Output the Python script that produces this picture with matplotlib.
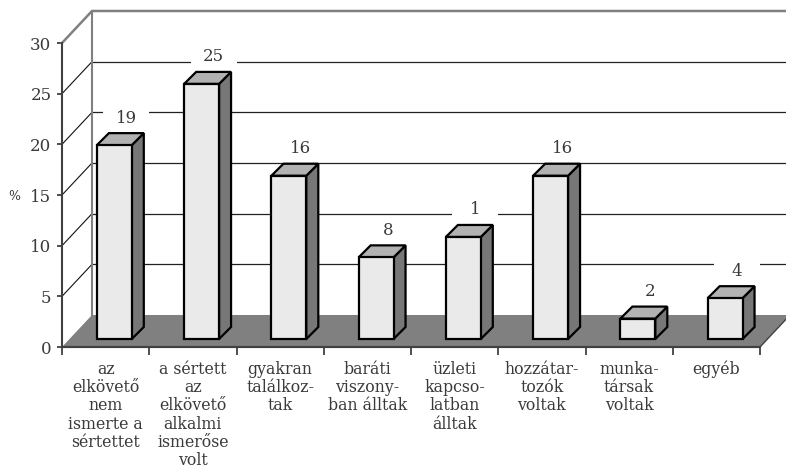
"""Relationship between offender and victim, share of cases (%), as 3D-style columns."""

import matplotlib
matplotlib.use('Agg')
import matplotlib.pyplot as plt
from matplotlib.patches import Polygon, Rectangle

CATEGORIES = [
    'az\nelkövető\nnem\nismerte a\nsértettet',
    'a sértett\naz\nelkövető\nalkalmi\nismerőse\nvolt',
    'gyakran\ntalálkoz-\ntak',
    'baráti\nviszony-\nban álltak',
    'üzleti\nkapcso-\nlatban\nálltak',
    'hozzátar-\ntozók\nvoltak',
    'munka-\ntársak\nvoltak',
    'egyéb',
]
VALUES = [19, 25, 16, 8, 10, 16, 2, 4]
VALUE_LABELS = ['19', '25', '16', '8', '1', '16', '2', '4']
Y_TICKS = [0, 5, 10, 15, 20, 25, 30]

FONT = 'DejaVu Serif'
TEXT = '#3a3a3a'

# Wall/floor offset and column depth, in data units.
WALL_DX = 30 / 87.25
WALL_DY = 32 / 10.13
BAR_DX = 12 / 87.25
BAR_DY = 12 / 10.13
BAR_LEFT = 0.40
BAR_WIDTH = 0.40
BAR_BASE = 8 / 10.13
BAR_SCALE = 10.2 / 10.13
LABEL_SHIFT = 6 / 87.25

fig = plt.figure(figsize=(7.86, 4.69), dpi=100)
ax = fig.add_axes([62 / 786, 122 / 469, 698 / 786, 304 / 469])
ax.set_xlim(0, 8)
ax.set_ylim(0, 30)
ax.patch.set_visible(False)

for side in ('top', 'right'):
    ax.spines[side].set_visible(False)
for side in ('left', 'bottom'):
    ax.spines[side].set_color('#404040')
    ax.spines[side].set_linewidth(1.5)
    ax.spines[side].set_zorder(6)

# Floor
right = 8 + WALL_DX
ax.add_patch(Polygon([(0, 0), (WALL_DX, WALL_DY), (right, WALL_DY), (8, 0)],
                     closed=True, fc='#808080', ec='none', zorder=1, clip_on=False))

# Back wall gridlines and the diagonals running to the axis ticks
for v in Y_TICKS[1:-1]:
    ax.plot([WALL_DX, right], [v + WALL_DY] * 2, color='#222222', lw=0.9,
            zorder=1, clip_on=False)
    ax.plot([0, WALL_DX], [v, v + WALL_DY], color='#111111', lw=0.8,
            zorder=1, clip_on=False)

# Wall outline
ax.plot([0, WALL_DX, right], [30, 30 + WALL_DY, 30 + WALL_DY], color='#808080',
        lw=1.8, zorder=2, clip_on=False)
ax.plot([WALL_DX, WALL_DX], [WALL_DY, 30 + WALL_DY], color='#808080', lw=1.5,
        zorder=2, clip_on=False)
ax.plot([0, 8], [0, 0], color='#404040', lw=1.5, zorder=6, clip_on=False)
ax.plot([8, right], [0, WALL_DY], color='#404040', lw=1.0, zorder=6, clip_on=False)

# Columns and their value labels
for i, (value, label) in enumerate(zip(VALUES, VALUE_LABELS)):
    x0 = i + BAR_LEFT
    x1 = x0 + BAR_WIDTH
    y0 = BAR_BASE
    y1 = BAR_BASE + value * BAR_SCALE
    style = dict(ec='black', lw=1.6, joinstyle='miter', zorder=4)
    ax.add_patch(Polygon([(x1, y0), (x1 + BAR_DX, y0 + BAR_DY),
                          (x1 + BAR_DX, y1 + BAR_DY), (x1, y1)], closed=True,
                         fc='#777777', clip_on=False, **style))
    ax.add_patch(Polygon([(x0, y1), (x1, y1), (x1 + BAR_DX, y1 + BAR_DY),
                          (x0 + BAR_DX, y1 + BAR_DY)], closed=True,
                         fc='#b2b2b2', clip_on=False, **style))
    ax.add_patch(Rectangle((x0, y0), BAR_WIDTH, value * BAR_SCALE, fc='#eaeaea',
                           clip_on=False, **style))

    # White gap in the gridline behind each label
    cx = x0 + (BAR_WIDTH + BAR_DX) / 2 + LABEL_SHIFT
    cy = y1 + BAR_DY + 15 / 10.13
    ax.add_patch(Rectangle((cx - 23 / 87.25, cy - 1.0), 46 / 87.25, 2.0, fc='white',
                           ec='none', zorder=3, clip_on=False))
    ax.text(cx, cy, label, ha='center', va='center', family=FONT, fontsize=12,
            color=TEXT, zorder=5)

ax.set_yticks(Y_TICKS)
ax.tick_params(axis='y', length=3.6, width=1.3, color='#404040', pad=4,
               labelsize=12, labelcolor=TEXT)
ax.set_xticks(range(9))
ax.set_xticklabels([])
ax.tick_params(axis='x', which='major', length=5.8, width=1.3, color='#404040')

# Category names hang off minor ticks between the major ones
ax.set_xticks([i + 0.5 for i in range(8)], minor=True)
ax.set_xticklabels(CATEGORIES, minor=True, family=FONT, fontsize=11.3, color=TEXT,
                   linespacing=1.1, ha='center', va='top')
ax.tick_params(axis='x', which='minor', length=0, pad=10)

for tick in ax.get_yticklabels():
    tick.set_family(FONT)

fig.text(14 / 786, 1 - 196 / 469, '%', family=FONT, fontsize=9, color=TEXT,
         ha='center', va='center')

fig.savefig('out.png', dpi=100)
plt.close(fig)
